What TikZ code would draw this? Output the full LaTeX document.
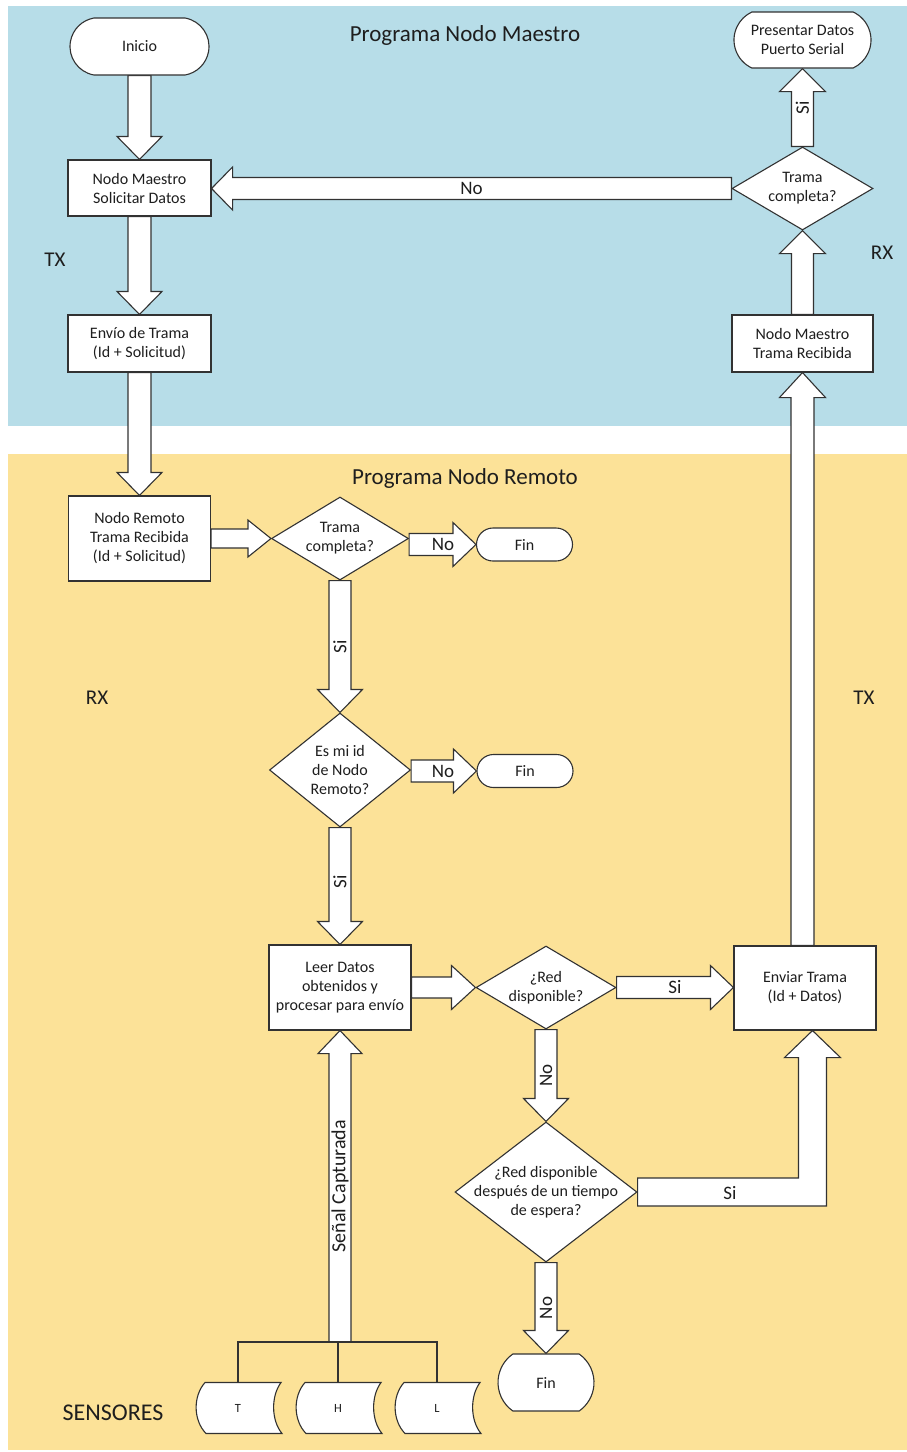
\documentclass[tikz,border=0pt]{standalone}
\usepackage{fontspec}
\setmainfont{Carlito}
\usetikzlibrary{shapes.geometric,shapes.misc,calc}

\definecolor{masterbg}{RGB}{183,221,232}
\definecolor{remotebg}{RGB}{252,226,152}
\definecolor{edge}{RGB}{50,50,50}
\definecolor{ink}{RGB}{30,30,30}

\pgfdeclarelayer{bands}
\pgfdeclarelayer{flow}
\pgfsetlayers{bands,flow,main}

\newcommand\flowbody{\fontsize{16}{19}\selectfont}
\newcommand\flowarrowtxt{\fontsize{19}{22}\selectfont}
\newcommand\flowside{\fontsize{21}{25}\selectfont}
\newcommand\flowtitle{\fontsize{23}{27}\selectfont}
\newcommand\flowsensor{\fontsize{12.5}{15}\selectfont}

% block arrow: #1 start, #2 tip, #3 shaft half width, #4 head half width, #5 head length
\newcommand{\blockarrow}[5]{%
  \draw[blk] let \p1=(#1), \p2=(#2),
     \n1={veclen(\x2-\x1,\y2-\y1)},
     \n2={(\x2-\x1)/\n1}, \n3={(\y2-\y1)/\n1} in
   ({\x1-\n3*#3},{\y1+\n2*#3}) --
   ({\x2-\n2*#5-\n3*#3},{\y2-\n3*#5+\n2*#3}) --
   ({\x2-\n2*#5-\n3*#4},{\y2-\n3*#5+\n2*#4}) --
   (\p2) --
   ({\x2-\n2*#5+\n3*#4},{\y2-\n3*#5-\n2*#4}) --
   ({\x2-\n2*#5+\n3*#3},{\y2-\n3*#5-\n2*#3}) --
   ({\x1+\n3*#3},{\y1-\n2*#3}) -- cycle;}

\tikzset{
  box/.style={draw=edge, line width=1.1pt, fill=white, rectangle, inner sep=2pt,
    align=center, text=ink, font=\flowbody},
  term/.style={box, rounded rectangle},
  dia/.style={draw=edge, line width=1.1pt, fill=white, diamond, inner sep=0pt},
  diatext/.style={align=center, text=ink, font=\flowbody, inner sep=0pt},
  blk/.style={draw=edge, line width=1.1pt, fill=white, line join=miter},
  alabel/.style={text=ink, font=\flowarrowtxt, inner sep=0pt},
  side/.style={text=ink, font=\flowside, inner sep=0pt},
  ttl/.style={text=ink, font=\flowtitle, inner sep=0pt},
  sensortxt/.style={text=ink, font=\flowsensor, inner sep=0pt,
    minimum width=80pt, minimum height=51pt},
  wire/.style={draw=edge, line width=1.1pt},
  stored/.pic={\draw[blk] (-33,-25.5) -- (43,-25.5)
      .. controls (33,-12) and (33,12) .. (44,25.5) -- (-32,25.5)
      .. controls (-45,12) and (-45,-12) .. cycle;}
}

\begin{document}
\begin{tikzpicture}[x=1pt,y=-1pt]
\useasboundingbox (0,0) rectangle (907,1452);

% program areas
\begin{pgfonlayer}{bands}
  \fill[masterbg] (8,6) rectangle (907,426);
  \fill[remotebg] (8,454) rectangle (907,1450);
\end{pgfonlayer}

\node[ttl] (t-master) at (465,35) {Programa Nodo Maestro};
\node[ttl] (t-remote) at (465,478) {Programa Nodo Remoto};

\node[side] (tx1) at (55,260) {TX};
\node[side] (rx1) at (882,253) {RX};
\node[side] (rx2) at (97,698) {RX};
\node[side] (tx2) at (864,698) {TX};
\node[side, font=\fontsize{24}{28}\selectfont] (sens) at (113,1413) {SENSORES};

% master node
\node[term, rounded rectangle arc length=160, minimum width=143pt, minimum height=57pt] (inicio) at (139.5,46.5) {Inicio};
\node[box, minimum width=143pt, minimum height=56pt] (solicitar) at (139.5,188) {Nodo Maestro\\Solicitar Datos};
\node[box, minimum width=143pt, minimum height=57pt] (envio) at (139.5,343.5) {Envío de Trama\\(Id + Solicitud)};
\node[term, rounded rectangle arc length=130, minimum width=141pt, minimum height=56pt] (presentar) at (802.5,40) {Presentar Datos\\Puerto Serial};
\node[dia, minimum width=141pt, minimum height=83pt] (tcm) at (802.5,188.5) {};
\node[diatext] (tcm-t) at (tcm) {Trama\\completa?};
\node[box, minimum width=141pt, minimum height=57pt] (mrec) at (802.5,343.5) {Nodo Maestro\\Trama Recibida};

% remote node
\node[box, minimum width=142pt, minimum height=85pt] (rrec) at (139.5,538.5) {Nodo Remoto\\Trama Recibida\\(Id + Solicitud)};
\node[dia, minimum width=137pt, minimum height=83pt] (tcr) at (340,538.5) {};
\node[diatext] (tcr-t) at (tcr) {Trama\\completa?};
\node[term, minimum width=100pt, minimum height=33pt] (fin1) at (524.5,544.5) {Fin};
\node[dia, minimum width=141pt, minimum height=114pt] (esmi) at (340,770) {};
\node[diatext] (esmi-t) at (esmi) {Es mi id\\de Nodo\\Remoto?};
\node[term, minimum width=100pt, minimum height=33pt] (fin2) at (525,771) {Fin};
\node[box, minimum width=142pt, minimum height=85pt] (leer) at (340,987.5) {Leer Datos\\obtenidos y\\procesar para envío};
\node[dia, minimum width=140pt, minimum height=83pt] (red) at (546,987.5) {};
\node[diatext] (red-t) at (red) {¿Red\\disponible?};
\node[box, minimum width=142pt, minimum height=84pt] (enviar) at (805,988) {Enviar Trama\\(Id + Datos)};
\node[dia, minimum width=182pt, minimum height=140pt] (redesp) at (546,1192) {};
\node[diatext] (redesp-t) at (redesp) {¿Red disponible\\después de un tiempo\\de espera?};
\node[term, rounded rectangle arc length=110, minimum width=100pt, minimum height=57pt] (fin3) at (546,1382.5) {Fin};

% sensors
\pic at (238,1408) {stored};
\pic at (338,1408) {stored};
\pic at (437,1408) {stored};
\node[sensortxt] (sT) at (238,1408) {T};
\node[sensortxt] (sH) at (338,1408) {H};
\node[sensortxt] (sL) at (437,1408) {L};
\coordinate (jn) at (338,1342);
\draw[wire] (sT.north) -- (sT.north |- jn) -- (sL.north |- jn) -- (sL.north);
\draw[wire] (sH.north) -- (sH.north |- jn);

% flow arrows
\begin{pgfonlayer}{flow}
  \blockarrow{inicio.south}{solicitar.north}{11.5}{22.5}{23}
  \blockarrow{solicitar.south}{envio.north}{11.5}{22.5}{23}
  \blockarrow{envio.south}{rrec.north}{11.5}{22.5}{23}
  \blockarrow{tcm.west}{solicitar.east |- tcm.west}{11}{21.5}{21}
  \blockarrow{mrec.north}{tcm.south}{11}{23}{23}
  \blockarrow{tcm.north}{presentar.south}{11}{23}{23}
  \blockarrow{enviar.north -| mrec.south}{mrec.south}{11.5}{23}{25}
  \blockarrow{rrec.east}{tcr.west}{9.5}{18.5}{23}
  \blockarrow{tcr.east |- fin1.west}{fin1.west}{11}{22}{23}
  \blockarrow{tcr.south}{esmi.north}{11}{22.5}{23}
  \blockarrow{esmi.east |- fin2.west}{fin2.west}{11}{22}{23}
  \blockarrow{esmi.south}{leer.north}{11}{22.5}{23}
  \blockarrow{leer.east}{red.west}{10.5}{22}{24}
  \blockarrow{red.east}{enviar.west |- red.east}{11}{22}{23}
  \blockarrow{red.south}{redesp.north}{11}{22.5}{23}
  \blockarrow{redesp.south}{fin3.north}{11}{22.5}{23}
  \blockarrow{leer.south |- jn}{leer.south}{11}{22}{23}
  % bent arrow from the second network check up to the send box
  \coordinate (bendtip) at ([xshift=7.5pt]enviar.south);
  \draw[blk] let \p1=(redesp.east), \p2=(bendtip) in
    (\x1,{\y1+14pt}) -- ({\x2-14pt},{\y1+14pt}) -- ({\x2-14pt},{\y2-27pt})
    -- ({\x2-28pt},{\y2-27pt}) -- (\p2) -- ({\x2+28pt},{\y2-27pt})
    -- ({\x2+14pt},{\y2-27pt}) -- ({\x2+14pt},{\y1-14pt}) -- (\x1,{\y1-14pt}) -- cycle;
\end{pgfonlayer}

% arrow labels
\node[alabel] (l-no1) at ($(tcm.west)!.5!(solicitar.east |- tcm.west)$) {No};
\node[alabel, rotate=90] (l-si1) at ($(tcm.north)!.5!(presentar.south)$) {Si};
\node[alabel] (l-no2) at (443,544.5) {No};
\node[alabel, rotate=90] (l-si2) at ($(tcr.south)!.5!(esmi.north)$) {Si};
\node[alabel] (l-no3) at (443,771) {No};
\node[alabel, rotate=90] (l-si3) at (340,882) {Si};
\node[alabel] (l-si4) at ($(red.east)!.5!(enviar.west |- red.east)$) {Si};
\node[alabel, rotate=90] (l-no4) at ($(red.south)!.5!(redesp.north)$) {No};
\node[alabel, rotate=90] (l-no5) at ($(redesp.south)!.5!(fin3.north)$) {No};
\node[alabel] (l-si5) at (730,1193) {Si};
\node[alabel, rotate=90, font=\fontsize{20}{24}\selectfont] (l-senal) at ($(leer.south |- jn)!.5!(leer.south)$) {Señal Capturada};
\end{tikzpicture}
\end{document}
